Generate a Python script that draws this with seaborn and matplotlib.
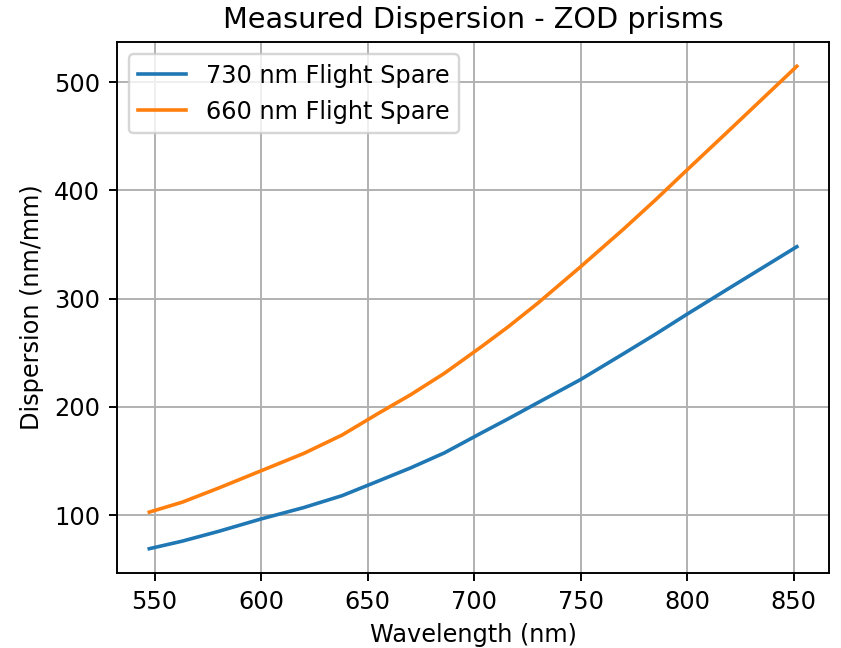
import matplotlib
matplotlib.use("Agg")
import matplotlib.pyplot as plt
import numpy as np
import pandas as pd
import seaborn as sns

# wavelengths (nm)
wavelength = [547.5, 563, 580, 600, 620, 638, 655, 670, 686, 703, 716, 730,
              750, 770, 785, 800, 820, 851.5]

# dispersion (nm/mm) for each prism
disp_730 = [69, 76, 85, 96.5, 107, 118, 131.5, 143.5, 157.5, 175.5, 189, 204,
            225.3, 249, 267, 285.7, 310, 348]
disp_660 = [102.8, 112, 125, 141, 157, 174, 194, 211, 231, 255, 274, 296,
            329.5, 364, 391, 419, 456, 514.7]

labels = ["730 nm Flight Spare", "660 nm Flight Spare"]

df = pd.concat([
    pd.DataFrame({"Wavelength": wavelength, "Dispersion": disp_730, "Prism": labels[0]}),
    pd.DataFrame({"Wavelength": wavelength, "Dispersion": disp_660, "Prism": labels[1]}),
])

DPI = 172.8
fig, ax = plt.subplots(figsize=(841 / DPI, 648 / DPI), dpi=DPI)
fig.subplots_adjust(left=0.139, right=0.986, top=0.935, bottom=0.116)

sns.lineplot(data=df, x="Wavelength", y="Dispersion", hue="Prism",
             hue_order=labels, palette=["#1f77b4", "#ff7f0e"],
             linewidth=1.5, ax=ax, estimator=None)

ax.legend(loc="upper left")
ax.grid(True)
ax.set_title("Measured Dispersion - ZOD prisms")
ax.set_xlabel("Wavelength (nm)")
ax.set_ylabel("Dispersion (nm/mm)")
ax.set_xticks([550, 600, 650, 700, 750, 800, 850])
ax.set_yticks([100, 200, 300, 400, 500])

fig.savefig("out.png", dpi=DPI)
